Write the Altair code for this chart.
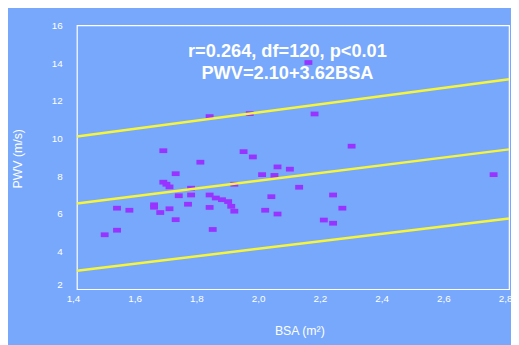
import altair as alt
import pandas as pd

# ---- data ----
bsa = [1.49, 1.53, 1.53, 1.57, 1.65, 1.65, 1.67, 1.70, 1.72,
       1.68, 1.72, 1.68, 1.69, 1.70, 1.73, 1.77, 1.77, 1.76,
       1.80, 1.83, 1.85, 1.87, 1.89, 1.90, 1.91, 1.83, 1.84,
       1.91, 1.94, 1.97, 2.00, 2.04, 2.05, 2.09, 2.12, 2.03,
       2.01, 2.05, 1.83, 1.96, 2.17, 2.15, 2.29, 2.23, 2.26,
       2.20, 2.23, 2.75]
pwv = [4.89, 5.13, 6.30, 6.19, 6.48, 6.35, 6.07, 6.27, 5.69,
       9.35, 8.13, 7.68, 7.57, 7.43, 6.96, 7.36, 7.00, 6.51,
       8.74, 7.00, 6.84, 6.75, 6.65, 6.40, 6.14, 6.34, 5.17,
       7.57, 9.30, 9.02, 8.08, 8.04, 8.49, 8.37, 7.41, 6.91,
       6.19, 5.99, 11.16, 11.32, 11.30, 14.03, 9.59, 7.00, 6.30,
       5.67, 5.50, 8.08]

line_x = [1.4, 2.8]
upper_band = [10.10, 13.14]
fit_line = [6.55, 9.42]
lower_band = [2.98, 5.75]

ann_line1 = "r=0.264, df=120, p<0.01"
ann_line2 = "PWV=2.10+3.62BSA"

x_ticks = [1.4, 1.6, 1.8, 2.0, 2.2, 2.4, 2.6, 2.8]
y_ticks = [2, 4, 6, 8, 10, 12, 14, 16]

# ---- tables ----
pts = pd.DataFrame({"BSA": bsa, "PWV": pwv})
lines = pd.concat([
    pd.DataFrame({"BSA": line_x, "PWV": upper_band, "band": "upper"}),
    pd.DataFrame({"BSA": line_x, "PWV": fit_line, "band": "fit"}),
    pd.DataFrame({"BSA": line_x, "PWV": lower_band, "band": "lower"}),
])

FONT = "Liberation Sans"
BG = "#77A8FB"

xscale = alt.Scale(domain=[1.4, 2.8], nice=False, zero=False)
yscale = alt.Scale(domain=[2, 16], nice=False, zero=False)

xaxis = alt.Axis(
    values=x_ticks, grid=False, ticks=False, domain=False,
    labelExpr="replace(format(datum.value, '.1f'), '.', ',')",
    labelColor="white", labelFont=FONT, labelFontSize=10,
    labelPadding=5, labelOffset=-4, labelFlush=False, labelOverlap=False,
    title="BSA (m²)", titleColor="white", titleFont=FONT,
    titleFontSize=12.5, titleFontWeight="normal",
    titleX=226, titleY=42, titleBaseline="middle",
)
yaxis = alt.Axis(
    values=y_ticks, grid=False, ticks=False, domain=False,
    labelColor="white", labelFont=FONT, labelFontSize=10,
    labelPadding=15, labelFlush=False, labelOverlap=False,
    labelOffset={"condition": {"test": "datum.value == 2", "value": -5}, "value": 0},
    title="PWV (m/s)", titleColor="white", titleFont=FONT,
    titleFontSize=12.5, titleFontWeight="normal",
    titleX=-60, titleY=135, titleAngle=-90, titleAlign="center",
    titleBaseline="middle",
)

rect_shape = "M-1,-0.6L1,-0.6L1,0.6L-1,0.6Z"

points = alt.Chart(pts).mark_point(
    shape=rect_shape, filled=True, size=64, opacity=1, color="#9933FF"
).encode(
    x=alt.X("BSA:Q", scale=xscale, axis=xaxis),
    y=alt.Y("PWV:Q", scale=yscale, axis=yaxis),
)

band_lines = alt.Chart(lines).mark_line(
    color="#F6F53A", strokeWidth=2.5
).encode(
    x=alt.X("BSA:Q", scale=xscale, axis=xaxis),
    y=alt.Y("PWV:Q", scale=yscale, axis=yaxis),
    detail="band:N",
)

txt1 = alt.Chart(pd.DataFrame({"t": [ann_line1]})).mark_text(
    font=FONT, fontSize=18.5, fontWeight="bold", color="white",
    align="center", baseline="middle"
).encode(
    x=alt.X(datum=2.082, scale=xscale, axis=xaxis),
    y=alt.Y(datum=14.64, scale=yscale, axis=yaxis),
    text="t:N",
)
txt2 = alt.Chart(pd.DataFrame({"t": [ann_line2]})).mark_text(
    font=FONT, fontSize=18.5, fontWeight="bold", color="white",
    align="center", baseline="middle"
).encode(
    x=alt.X(datum=2.082, scale=xscale, axis=xaxis),
    y=alt.Y(datum=13.46, scale=yscale, axis=yaxis),
    text="t:N",
)

chart = alt.layer(txt1, txt2, points, band_lines).properties(
    width=439, height=268,
    background=BG,
    autosize=alt.AutoSizeParams(type="none"),
    padding={"left": 70, "top": 15, "right": 2, "bottom": 54},
).configure_axis(
    labelOverlap=False
).configure_view(
    stroke="white", strokeWidth=1.2, fill=BG
)

chart.save("out.html", embed_options={"renderer": "svg", "actions": False})
